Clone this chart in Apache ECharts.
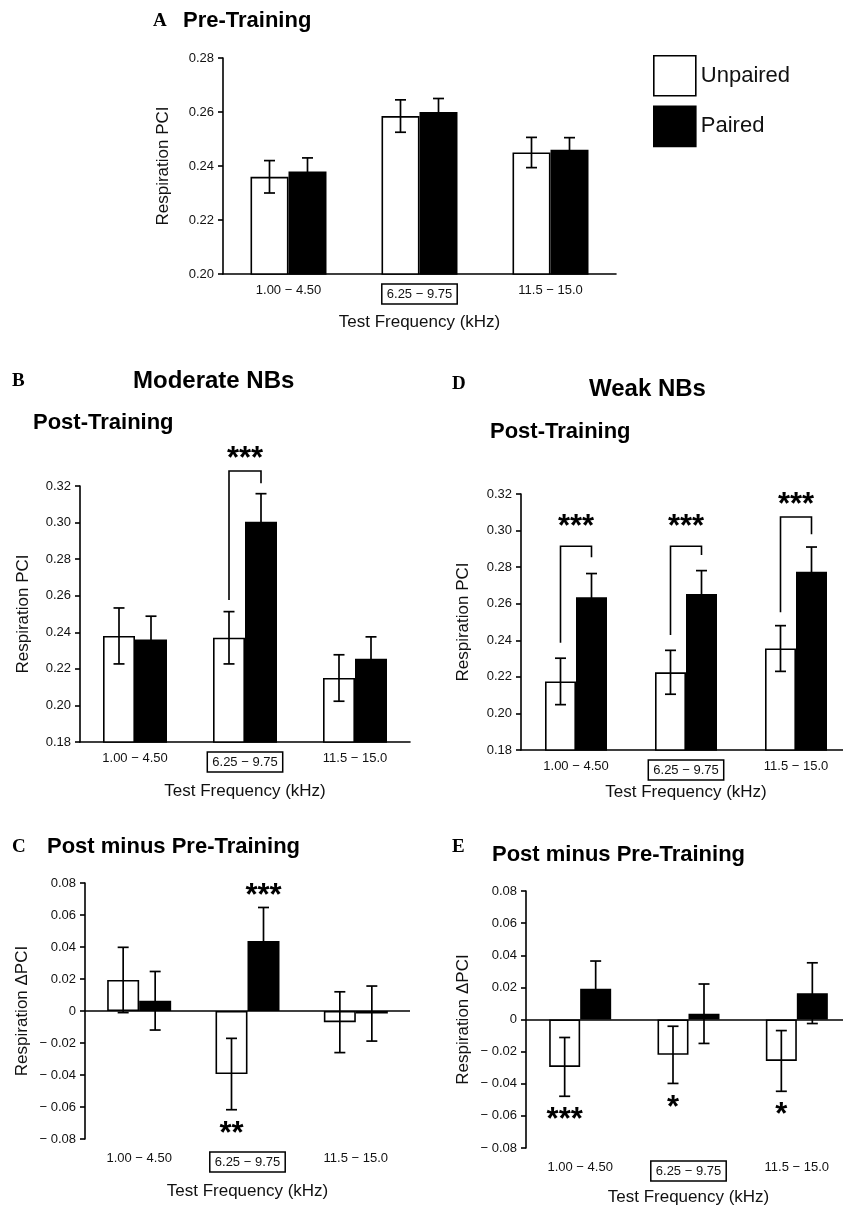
<!DOCTYPE html>
<html>
<head>
<meta charset="utf-8">
<script src="https://cdn.jsdelivr.net/npm/echarts@6/dist/echarts.min.js"></script>
<style>
  html, body { margin: 0; padding: 0; background: #fff; }
  #chart { width: 843px; height: 1210px; }
</style>
</head>
<body>
<div id="chart"></div>
<script>
  const categories = ['1.00 − 4.50', '6.25 − 9.75', '11.5 − 15.0'];

  // A: pre-training
  const preUnpaired = [0.236, 0.2585, 0.245];
  const preUnpairedErr = [0.006, 0.006, 0.0056];
  const prePaired = [0.238, 0.260, 0.246];
  const prePairedErr = [0.005, 0.005, 0.0045];
  // B: moderate NBs, post-training
  const modUnpaired = [0.238, 0.237, 0.215];
  const modUnpairedErr = [0.0153, 0.0143, 0.0127];
  const modPaired = [0.236, 0.3005, 0.2255];
  const modPairedErr = [0.0128, 0.0153, 0.012];
  // C: moderate NBs, post minus pre
  const modDiffUnpaired = [0.0194, -0.0394, -0.007];
  const modDiffUnpairedErr = [0.0204, 0.0223, 0.019];
  const modDiffPaired = [0.0064, 0.0437, -0.0016];
  const modDiffPairedErr = [0.0183, 0.021, 0.0172];
  // D: weak NBs, post-training
  const weakUnpaired = [0.2175, 0.2225, 0.2355];
  const weakUnpairedErr = [0.0127, 0.012, 0.0125];
  const weakPaired = [0.2635, 0.2653, 0.2775];
  const weakPairedErr = [0.013, 0.0128, 0.0135];
  // E: weak NBs, post minus pre
  const weakDiffUnpaired = [-0.0295, -0.022, -0.0258];
  const weakDiffUnpairedErr = [0.0183, 0.0178, 0.0189];
  const weakDiffPaired = [0.0191, 0.0036, 0.0164];
  const weakDiffPairedErr = [0.0173, 0.0185, 0.0189];

  // brackets: [category, left leg y, top y, right leg y]
  const bracketsB = [[1, 0.2576, 0.3282, 0.3215]];
  const bracketsD = [[0, 0.2387, 0.2914, 0.2854], [1, 0.2429, 0.2914, 0.2866], [2, 0.2553, 0.3074, 0.298]];
  // stars: [category, bar (0 unpaired, 0.5 middle, 1 paired), y, text]
  const starsB = [[1, 0.5, 0.3386, '***']];
  const starsC = [[1, 1, 0.076, '***'], [1, 0, -0.073, '**']];
  const starsD = [[0, 0.5, 0.3058, '***'], [1, 0.5, 0.3058, '***'], [2, 0.5, 0.3178, '***']];
  const starsE = [[0, 0, -0.0586, '***'], [1, 0, -0.051, '*'], [2, 0, -0.0555, '*']];

  const FONT = 'Liberation Sans, Arial, Helvetica, sans-serif';
  const SERIF = 'Liberation Serif, Times New Roman, serif';

  const panels = [
    { grid: { left: 223, top: 58, width: 393, height: 216 }, min: 0.20, max: 0.28, bw: 38, diff: false,
      yName: 'Respiration PCI', yGap: 51, xGap: 40,
      unp: preUnpaired, unpErr: preUnpairedErr, pai: prePaired, paiErr: prePairedErr, brackets: [], stars: [] },
    { grid: { left: 80, top: 486, width: 330, height: 256 }, min: 0.18, max: 0.32, bw: 32, diff: false,
      yName: 'Respiration PCI', yGap: 48, xGap: 41,
      unp: modUnpaired, unpErr: modUnpairedErr, pai: modPaired, paiErr: modPairedErr, brackets: bracketsB, stars: starsB },
    { grid: { left: 85, top: 883, width: 325, height: 256 }, min: -0.08, max: 0.08, bw: 32, diff: true,
      yName: 'Respiration ΔPCI', yGap: 54, xGap: 44,
      unp: modDiffUnpaired, unpErr: modDiffUnpairedErr, pai: modDiffPaired, paiErr: modDiffPairedErr, brackets: [], stars: starsC },
    { grid: { left: 521, top: 494, width: 330, height: 256 }, min: 0.18, max: 0.32, bw: 31, diff: false,
      yName: 'Respiration PCI', yGap: 49, xGap: 34,
      unp: weakUnpaired, unpErr: weakUnpairedErr, pai: weakPaired, paiErr: weakPairedErr, brackets: bracketsD, stars: starsD },
    { grid: { left: 526, top: 891, width: 325, height: 257 }, min: -0.08, max: 0.08, bw: 31, diff: true,
      yName: 'Respiration ΔPCI', yGap: 54, xGap: 41,
      unp: weakDiffUnpaired, unpErr: weakDiffUnpairedErr, pai: weakDiffPaired, paiErr: weakDiffPairedErr, brackets: [], stars: starsE }
  ];

  function fmtTick(v) {
    if (Math.abs(v) < 1e-9) return '0';
    if (v < 0) return '− ' + Math.abs(v).toFixed(2);
    return v.toFixed(2);
  }

  function errSeries(i, vals, errs, off) {
    return {
      type: 'custom', xAxisIndex: i, yAxisIndex: i, z: 5, silent: true,
      data: vals.map((v, k) => [k, v, errs[k]]),
      encode: { x: 0, y: 1 },
      renderItem: function (params, api) {
        const c = api.value(0), v = api.value(1), e = api.value(2);
        const hi = api.coord([c, v + e]), lo = api.coord([c, v - e]);
        const x = hi[0] + off, cap = 5.5;
        const st = { stroke: '#000', lineWidth: 1.7 };
        return { type: 'group', children: [
          { type: 'line', shape: { x1: x, y1: hi[1], x2: x, y2: lo[1] }, style: st },
          { type: 'line', shape: { x1: x - cap, y1: hi[1], x2: x + cap, y2: hi[1] }, style: st },
          { type: 'line', shape: { x1: x - cap, y1: lo[1], x2: x + cap, y2: lo[1] }, style: st }
        ] };
      }
    };
  }

  const grids = [], xAxes = [], yAxes = [], series = [];
  panels.forEach(function (p, i) {
    grids.push(Object.assign({ containLabel: false, outerBoundsMode: 'none' }, p.grid));
    xAxes.push({
      type: 'category', gridIndex: i, data: categories, position: 'bottom',
      axisLine: { show: !p.diff, onZero: false, lineStyle: { color: '#000', width: 1.6 } },
      axisTick: { show: false },
      axisLabel: {
        interval: 0, margin: p.diff ? 13 : 10, fontSize: 13, color: '#111', fontFamily: FONT,
        formatter: (v, idx) => idx === 1 ? '{box|' + v + '}' : v,
        rich: { box: { borderColor: '#000', borderWidth: 1.5, padding: [4, 5, 3, 5], fontSize: 13, color: '#111', fontFamily: FONT } }
      },
      name: 'Test Frequency (kHz)', nameLocation: 'middle', nameGap: p.xGap,
      nameTextStyle: { fontSize: 17, color: '#111', fontFamily: FONT }
    });
    yAxes.push({
      type: 'value', gridIndex: i, min: p.min, max: p.max, interval: 0.02,
      axisLine: { show: true, lineStyle: { color: '#000', width: 1.6 } },
      axisTick: { show: true, length: 5, lineStyle: { color: '#000', width: 1.6 } },
      splitLine: { show: false },
      axisLabel: { fontSize: 13, color: '#111', margin: 9, fontFamily: FONT, formatter: fmtTick },
      name: p.yName, nameLocation: 'middle', nameGap: p.yGap,
      nameTextStyle: { fontSize: 17, color: '#111', fontFamily: FONT }
    });
    const unpBar = {
      name: 'Unpaired', type: 'bar', xAxisIndex: i, yAxisIndex: i, barWidth: p.bw, barGap: '0%',
      data: p.unp, itemStyle: { color: '#fff', borderColor: '#000', borderWidth: 1.6 }, silent: true
    };
    if (p.diff) {
      unpBar.markLine = {
        silent: true, symbol: 'none', label: { show: false },
        lineStyle: { color: '#000', width: 1.6, type: 'solid' },
        data: [{ yAxis: 0 }]
      };
    }
    series.push(unpBar);
    series.push({
      name: 'Paired', type: 'bar', xAxisIndex: i, yAxisIndex: i, barWidth: p.bw, barGap: '0%',
      data: p.pai, itemStyle: { color: '#000', borderColor: '#000', borderWidth: 1.6 }, silent: true
    });
    series.push(errSeries(i, p.unp, p.unpErr, -p.bw / 2));
    series.push(errSeries(i, p.pai, p.paiErr, p.bw / 2));
    if (p.brackets.length) {
      series.push({
        type: 'custom', xAxisIndex: i, yAxisIndex: i, z: 6, silent: true,
        data: p.brackets, encode: { x: 0, y: 2 },
        renderItem: function (params, api) {
          const c = api.value(0);
          const l = api.coord([c, api.value(1)]), t = api.coord([c, api.value(2)]), r = api.coord([c, api.value(3)]);
          const xl = l[0] - p.bw / 2, xr = l[0] + p.bw / 2;
          return { type: 'polyline', shape: { points: [[xl, l[1]], [xl, t[1]], [xr, t[1]], [xr, r[1]]] },
                   style: { stroke: '#000', fill: null, lineWidth: 1.6 } };
        }
      });
    }
    if (p.stars.length) {
      series.push({
        type: 'custom', xAxisIndex: i, yAxisIndex: i, z: 6, silent: true,
        data: p.stars.map(s => [s[0], s[1], s[2]]), encode: { x: 0, y: 2 },
        renderItem: function (params, api) {
          const s = p.stars[params.dataIndex];
          const pt = api.coord([api.value(0), api.value(2)]);
          return { type: 'text', x: pt[0] + (api.value(1) - 0.5) * p.bw, y: pt[1] + 7,
                   style: { text: s[3], fontSize: 31, fontWeight: 'bold', fontFamily: FONT, fill: '#000', align: 'center', verticalAlign: 'middle' } };
        }
      });
    }
  });

  function txt(x, y, text, size, serif) {
    return { type: 'text', x: x, y: y, silent: true,
             style: { text: text, fontSize: size, fontWeight: 'bold', fontFamily: serif ? SERIF : FONT,
                      fill: '#000', align: 'left', verticalAlign: 'middle' } };
  }

  const chart = echarts.init(document.getElementById('chart'), null, { renderer: 'canvas' });
  chart.setOption({
    backgroundColor: '#fff',
    animation: false,
    grid: grids,
    xAxis: xAxes,
    yAxis: yAxes,
    legend: {
      left: 648, top: 50, orient: 'vertical', icon: 'rect', itemWidth: 42, itemHeight: 40, itemGap: 9,
      selectedMode: false,
      textStyle: { fontSize: 22, color: '#111', fontFamily: FONT },
      data: [
        { name: 'Unpaired', itemStyle: { color: '#fff', borderColor: '#000', borderWidth: 1.6 } },
        { name: 'Paired', itemStyle: { color: '#000', borderColor: '#000', borderWidth: 1.6 } }
      ]
    },
    graphic: [
      txt(153, 21, 'A', 19, true),
      txt(183, 21, 'Pre-Training', 22),
      txt(12, 381, 'B', 19, true),
      txt(133, 381, 'Moderate NBs', 24),
      txt(33, 423, 'Post-Training', 22),
      txt(12, 847, 'C', 19, true),
      txt(47, 847, 'Post minus Pre-Training', 22),
      txt(452, 384, 'D', 19, true),
      txt(589, 389, 'Weak NBs', 24),
      txt(490, 432, 'Post-Training', 22),
      txt(452, 847, 'E', 19, true),
      txt(492, 855, 'Post minus Pre-Training', 22)
    ],
    series: series
  });
</script>
</body>
</html>
